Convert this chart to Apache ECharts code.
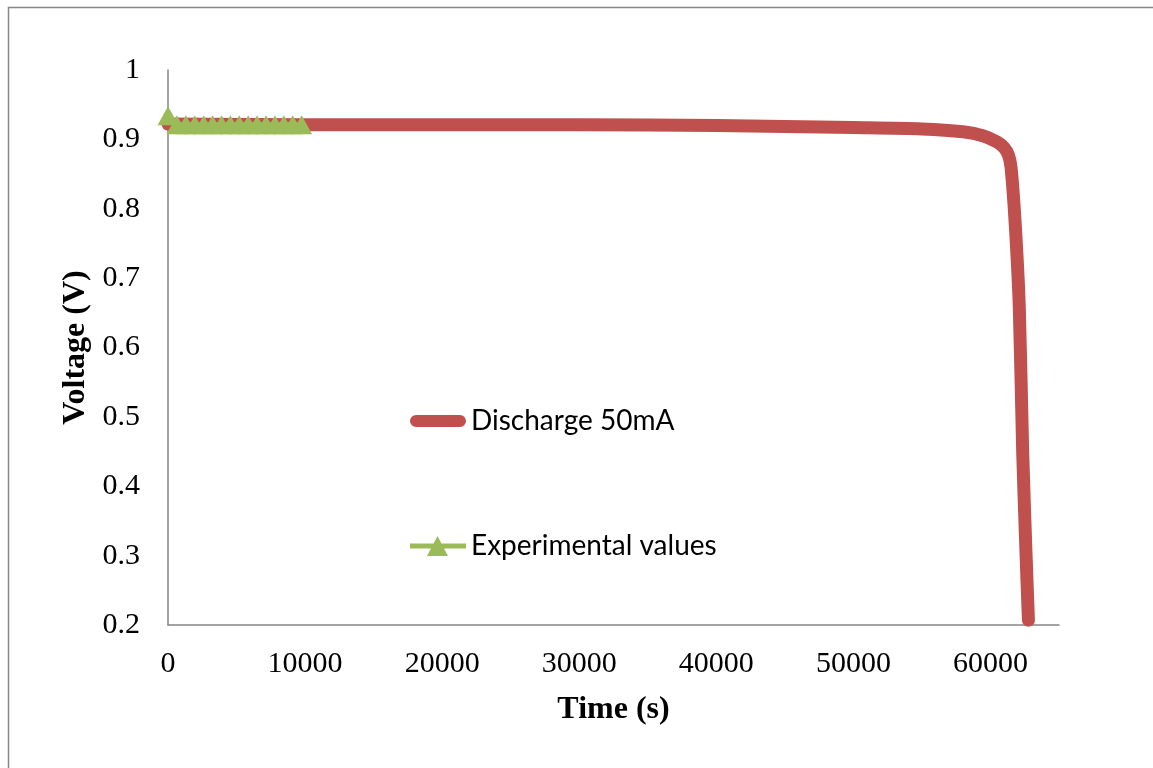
<!DOCTYPE html>
<html>
<head>
<meta charset="utf-8">
<script src="https://cdn.jsdelivr.net/npm/echarts@6/dist/echarts.min.js"></script>
<style>
html,body{margin:0;padding:0;background:#fff;}
#chart{width:1153px;height:768px;}
</style>
</head>
<body>
<div id="chart"></div>
<script>
// Model discharge curve at 50 mA: [time (s), voltage (V)]
const dischargeTime = [0, 10000, 20000, 30000, 40000, 50000, 55000, 58000, 59500, 60500, 61000, 61300, 61500, 61800, 62100, 62350, 62600, 62770];
const dischargeVolt = [0.922, 0.921, 0.921, 0.921, 0.920, 0.917, 0.915, 0.911, 0.905, 0.896, 0.888, 0.878, 0.860, 0.780, 0.660, 0.450, 0.300, 0.207];
// Experimental values
const expTime = [0, 650, 1300, 1950, 2600, 3250, 3900, 4550, 5200, 5850, 6500, 7150, 7800, 8450, 9100, 9750];
const expVolt = [0.934, 0.921, 0.921, 0.921, 0.921, 0.921, 0.921, 0.921, 0.921, 0.921, 0.921, 0.921, 0.921, 0.921, 0.921, 0.921];
const yTicks = [0.2, 0.3, 0.4, 0.5, 0.6, 0.7, 0.8, 0.9, 1];
const xTicks = [0, 10000, 20000, 30000, 40000, 50000, 60000];
const seriesNames = ['Discharge 50mA', 'Experimental values'];

const chart = echarts.init(document.getElementById('chart'), null, {renderer: 'canvas'});
const serif = '"Liberation Serif", "Times New Roman", serif';
const sans = 'Lato, "Open Sans", sans-serif';
const pillIcon = 'path://M6.5,0 L53.5,0 A6.5,6.5 0 0 1 53.5,13 L6.5,13 A6.5,6.5 0 0 1 6.5,0 Z';
const lineTriIcon = 'path://M0,7.5 L23.56,7.5 L27.5,0 L31.44,7.5 L56,7.5 L56,12.5 L34.06,12.5 L38,20 L17,20 L20.94,12.5 L0,12.5 Z';
chart.setOption({
  animation: false,
  backgroundColor: '#ffffff',
  graphic: [{
    type: 'rect', left: 6, top: 5, silent: true,
    shape: {width: 1300, height: 900},
    style: {fill: 'none', stroke: '#878787', lineWidth: 1.5}
  }],
  grid: {left: 168, top: 70, right: 94, bottom: 143, containLabel: false},
  legend: [{
    data: [{name: seriesNames[0], icon: pillIcon}], orient: 'vertical', left: 410, top: 407,
    padding: 0, itemWidth: 56, itemHeight: 13, itemGap: 5,
    itemStyle: {color: '#C0504D', borderWidth: 0},
    textStyle: {fontFamily: sans, fontSize: 28, color: '#000'}
  }, {
    data: [{name: seriesNames[1], icon: lineTriIcon}], orient: 'vertical', left: 410, top: 532,
    padding: 0, itemWidth: 56, itemHeight: 20, itemGap: 5,
    itemStyle: {color: '#9BBB59', borderWidth: 0},
    textStyle: {fontFamily: sans, fontSize: 28, color: '#000'}
  }],
  xAxis: {
    type: 'value', min: xTicks[0], max: 65000, interval: xTicks[1] - xTicks[0],
    name: 'Time (s)', nameLocation: 'middle', nameGap: 69,
    nameTextStyle: {fontFamily: serif, fontSize: 32, fontWeight: 'bold', color: '#000'},
    axisLine: {lineStyle: {color: '#868686', width: 1.5}},
    axisTick: {show: false}, splitLine: {show: false},
    axisLabel: {showMaxLabel: false, margin: 24, fontFamily: serif, fontSize: 30, color: '#000',
      formatter: v => String(v)}
  },
  yAxis: {
    type: 'value', min: yTicks[0], max: yTicks[yTicks.length - 1], interval: 0.1,
    name: 'Voltage (V)', nameLocation: 'middle', nameGap: 73,
    nameTextStyle: {fontFamily: serif, fontSize: 32, fontWeight: 'bold', color: '#000'},
    axisLine: {show: true, lineStyle: {color: '#868686', width: 1.5}},
    axisTick: {show: false}, splitLine: {show: false},
    axisLabel: {margin: 28, fontFamily: serif, fontSize: 30, color: '#000',
      formatter: v => String(Math.round(v * 10) / 10)}
  },
  series: [{
    name: seriesNames[0], type: 'line', showSymbol: false, symbol: 'none',
    smooth: 0.3, color: '#C0504D',
    lineStyle: {width: 13, color: '#C0504D', cap: 'round', join: 'round'},
    data: dischargeTime.map((t, i) => [t, dischargeVolt[i]]), z: 2
  }, {
    name: seriesNames[1], type: 'line', symbol: 'triangle', symbolSize: [21, 19],
    color: '#9BBB59',
    itemStyle: {color: '#9BBB59'},
    lineStyle: {width: 5, color: '#9BBB59'},
    data: expTime.map((t, i) => [t, expVolt[i]]), z: 3
  }]
});
</script>
</body>
</html>
